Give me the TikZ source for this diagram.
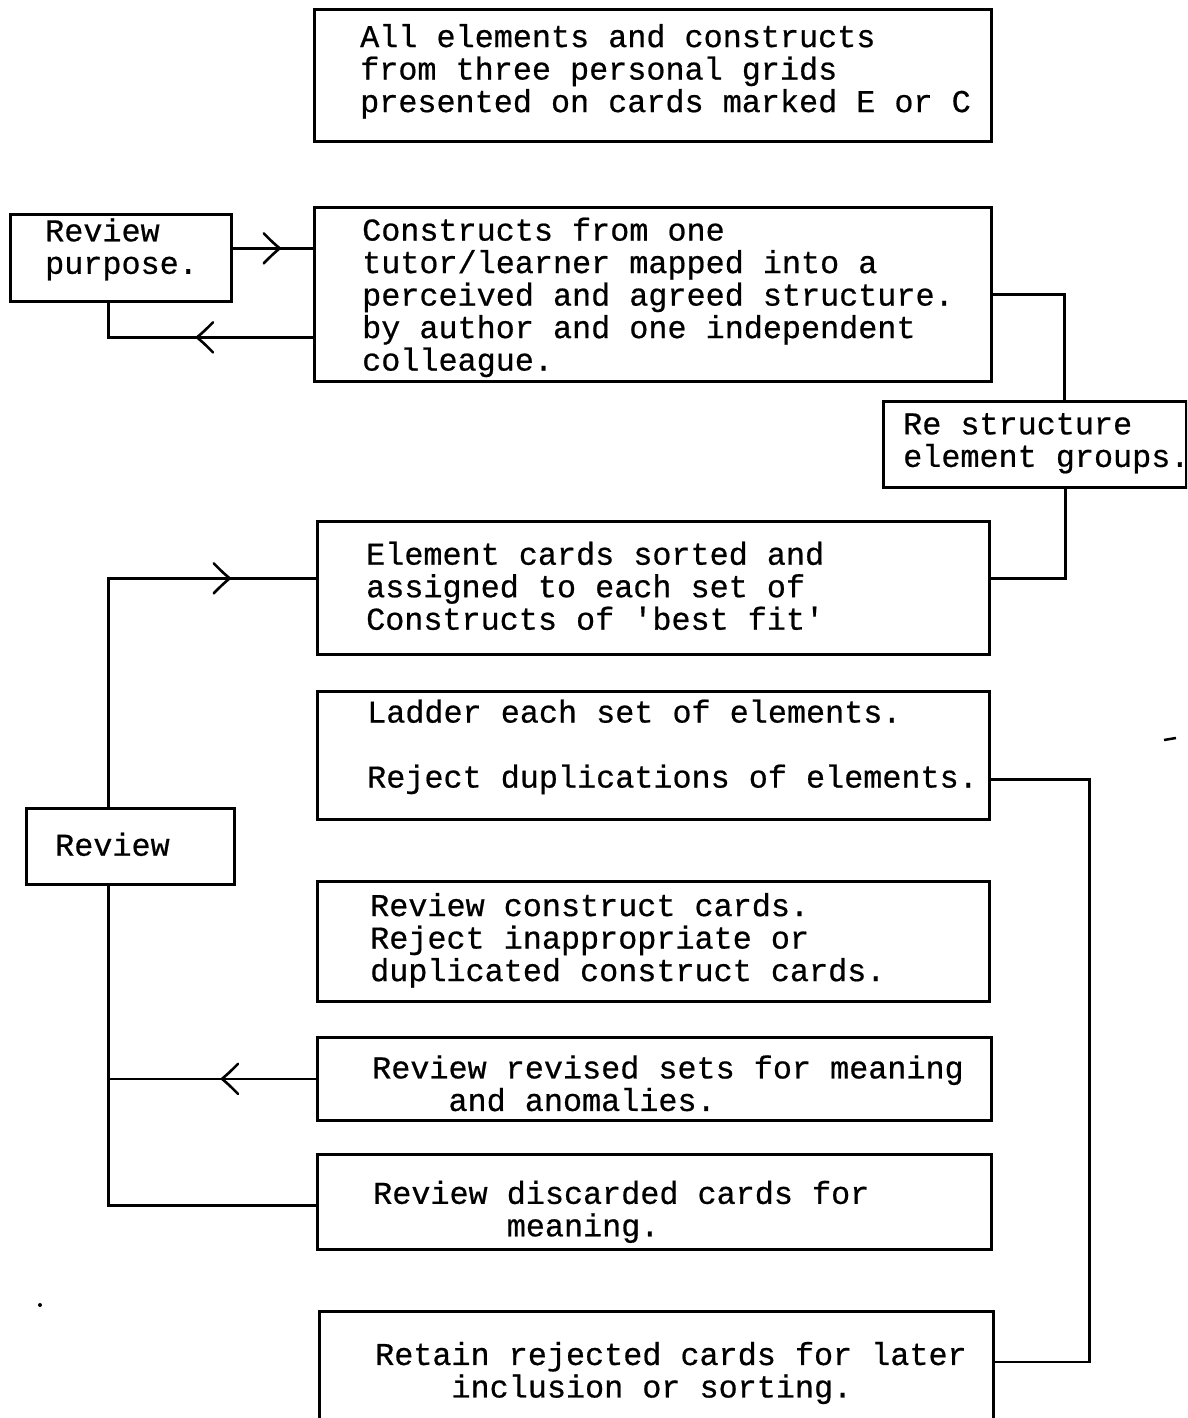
\documentclass[tikz,border=0pt]{standalone}
\usepackage{fontspec}
\newfontfamily\tw[FakeBold=0.6]{Liberation Mono}
\usetikzlibrary{decorations.markings}

\tikzset{
  box/.style={draw, line width=2.7pt, rectangle, inner sep=0pt, anchor=north west},
  txt/.style={font=\tw\fontsize{31.8pt}{32.5pt}\selectfont, align=left, inner sep=0pt, anchor=west},
  conn/.style={draw, line width=2.7pt},
  barb/.style={draw, line width=2.6pt, line cap=round},
  midarrow/.style={postaction={decorate}, decoration={markings,
      mark=at position #1 with {\draw[barb] (-16pt,15pt) .. controls (-7pt,6pt) .. (0pt,0pt)
                                               .. controls (-7pt,-6pt) .. (-16pt,-15pt);}}}
}
\newcommand{\ind}[1]{\hspace*{#1\dimexpr 19.08pt\relax}}

\begin{document}
\begin{tikzpicture}[x=1pt, y=-1pt]
  \useasboundingbox (0,0) rectangle (1187,1418);
  \clip (0,0) rectangle (1187,1418);

  % boxes
  \node[box, minimum width=677pt, minimum height=132pt] (b1) at (313,8) {};
  \node[box, minimum width=221pt, minimum height=87pt]  (rp) at (9,213) {};
  \node[box, minimum width=677pt, minimum height=174pt] (b3) at (313,206) {};
  \node[box, minimum width=303pt, minimum height=86pt]  (rs) at (882,400) {};
  \node[box, minimum width=672pt, minimum height=133pt] (b5) at (316,520) {};
  \node[box, minimum width=672pt, minimum height=128pt] (b6) at (316,690) {};
  \node[box, minimum width=208pt, minimum height=76pt]  (rev) at (25,807) {};
  \node[box, minimum width=672pt, minimum height=120pt] (b7) at (316,880) {};
  \node[box, minimum width=674pt, minimum height=83pt]  (b8) at (316,1036) {};
  \node[box, minimum width=674pt, minimum height=95pt]  (b9) at (316,1153) {};
  \node[box, minimum width=674pt, minimum height=130pt] (b10) at (318,1310) {};

  % texts
  \node[txt] (t1) at ([xshift=47pt, yshift=4pt]b1.west)
    {All elements and constructs\\from three personal grids\\presented on cards marked E or C};
  \node[txt] (trp) at ([xshift=36pt, yshift=8.5pt]rp.west) {Review\\purpose.};
  \node[txt] (t3) at ([xshift=49pt, yshift=-3pt]b3.west)
    {Constructs from one\\tutor/learner mapped into a\\perceived and agreed structure.\\by author and one independent\\colleague.};
  \node[txt] (trs) at ([xshift=21pt, yshift=1pt]rs.west) {Re structure\\element groups.};
  \node[txt] (t5) at ([xshift=50pt, yshift=2pt]b5.west)
    {Element cards sorted and\\assigned to each set of\\Constructs of 'best fit'};
  \node[txt] (t6) at ([xshift=51pt, yshift=8.5pt]b6.west)
    {Ladder each set of elements.\\[32.5pt]Reject duplications of elements.};
  \node[txt] (trev) at ([xshift=30pt, yshift=2pt]rev.west) {Review};
  \node[txt] (t7) at ([xshift=54pt, yshift=1pt]b7.west)
    {Review construct cards.\\Reject inappropriate or\\duplicated construct cards.};
  \node[txt] (t8) at ([xshift=56pt, yshift=-4.5pt]b8.west)
    {Review revised sets for meaning\\\ind{4}and anomalies.};
  \node[txt] (t9) at ([xshift=57pt, yshift=-10pt]b9.west)
    {Review discarded cards for\\\ind{7}meaning.};
  \node[txt] (t10) at ([xshift=57pt, yshift=-63pt]b10.north west)
    {Retain rejected cards for later\\\ind{4}inclusion or sorting.};

  % connector corners
  \coordinate (spine) at ([xshift=-22pt]rev.north);
  \coordinate (rbus) at ([xshift=99pt, yshift=-24pt]b6.east);

  % connectors
  \draw[conn, midarrow=47pt] ([yshift=9.5pt]rp.east) -- ([yshift=9.5pt]rp.east -| b3.west);
  \draw[conn, midarrow=116pt] ([yshift=-43pt]b3.west) -| (rp.south -| spine);
  \draw[conn] (b3.east) -| ([xshift=29.5pt]rs.north);
  \draw[conn] ([xshift=30.5pt]rs.south) |- ([yshift=9.5pt]b5.east);
  \draw[conn, midarrow=350pt] (spine) |- ([yshift=9.5pt]b5.west);
  \draw[conn] ([yshift=-24pt]b6.east) -- (rbus) |- ([yshift=-52pt]b10.north east);
  \draw[conn] ([xshift=-22pt]rev.south) |- ([yshift=-3.5pt]b9.west);
  \draw[conn, midarrow=94pt] (b8.west) -- (b8.west -| spine);

  % small pen marks
  \draw[line width=2.5pt] (1164,740) -- (1176,738);
  \fill (40,1305) circle (2pt);
\end{tikzpicture}
\end{document}
